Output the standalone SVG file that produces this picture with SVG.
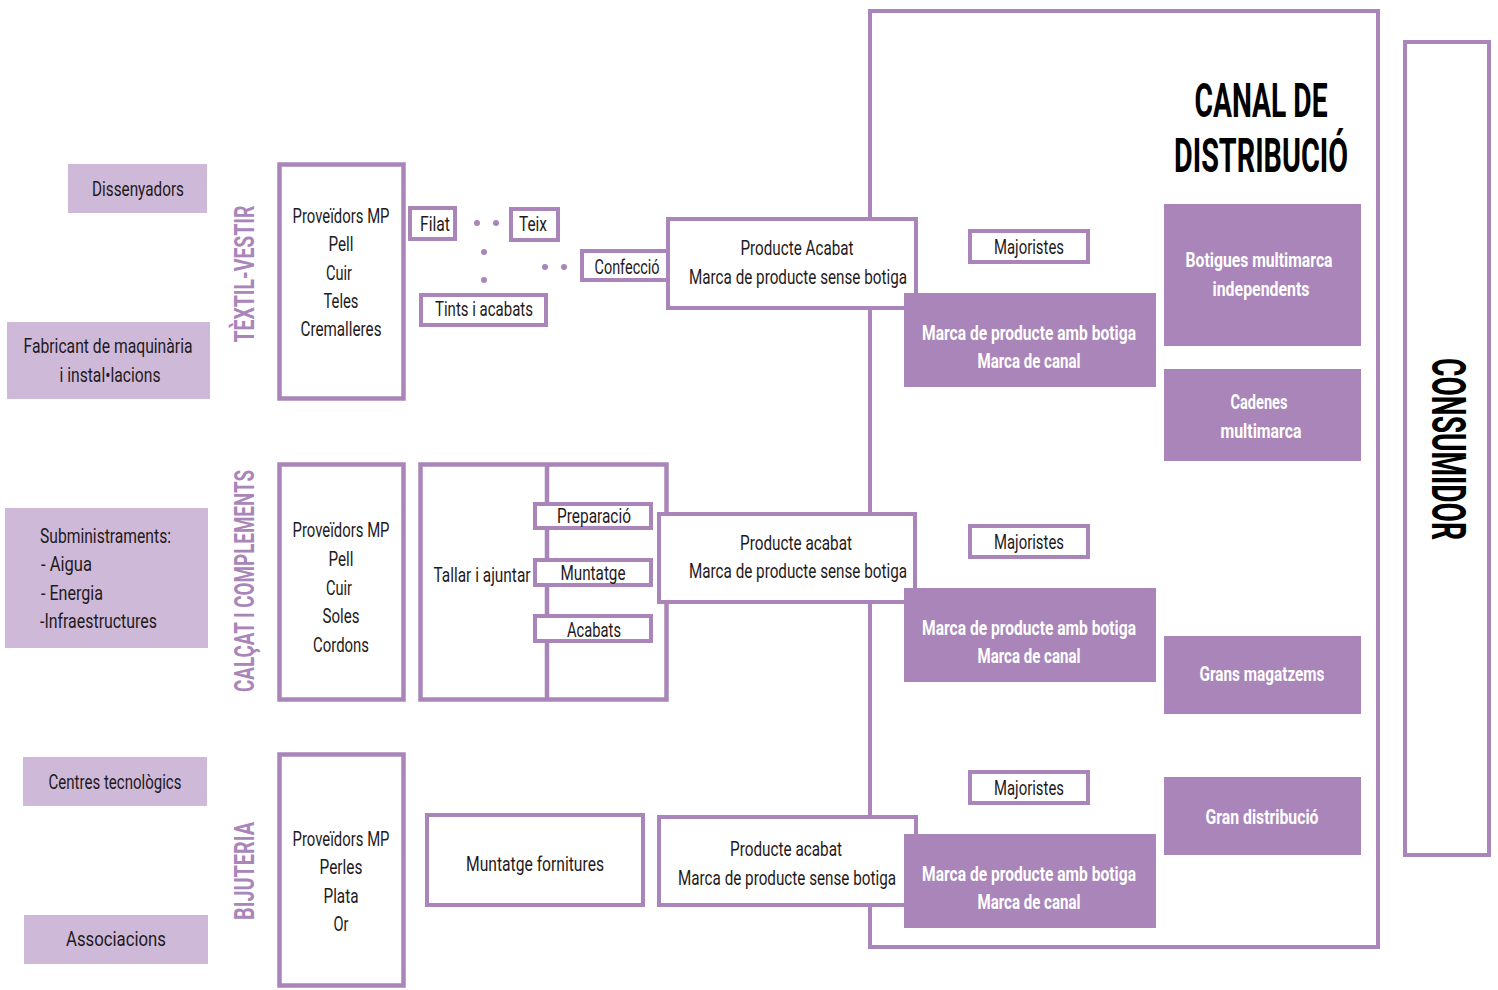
<svg xmlns="http://www.w3.org/2000/svg" width="1498" height="990" viewBox="0 0 1498 990">
<style>
.bx{fill:#fff;stroke:#A985BA;stroke-width:4}
.bx5{fill:#fff;stroke:#A985BA;stroke-width:4.5}
.lt{fill:#CEB9D8}
.dk{fill:#A985BA}
.t{font-family:"Roboto","Liberation Sans",sans-serif;font-size:21px;fill:#1f1a1c;text-anchor:middle;dominant-baseline:central}
.tl{text-anchor:start}
.w{font-family:"Roboto","Liberation Sans",sans-serif;font-size:21px;font-weight:bold;fill:#fff;text-anchor:middle;dominant-baseline:central}
.v{font-family:"Roboto","Liberation Sans",sans-serif;font-size:28px;font-weight:bold;fill:#A985BA;text-anchor:middle;dominant-baseline:central}
.h{font-family:"Roboto","Liberation Sans",sans-serif;font-size:48px;font-weight:bold;fill:#000;text-anchor:middle;dominant-baseline:central}
.dot{fill:#A985BA}
</style>
<rect width="1498" height="990" fill="#fff"/>

<g id="canal">
<rect x="870" y="11" width="508" height="936" fill="none" stroke="#A985BA" stroke-width="4"/>
<text class="h" x="1261" y="100" textLength="133" lengthAdjust="spacingAndGlyphs">CANAL DE</text>
<text class="h" x="1261" y="155" textLength="174" lengthAdjust="spacingAndGlyphs">DISTRIBUCIÓ</text>
</g>

<g id="consumidor">
<rect x="1405" y="42" width="84" height="813" class="bx"/>
<text class="h" transform="translate(1448,449) rotate(90)" textLength="182" lengthAdjust="spacingAndGlyphs">CONSUMIDOR</text>
</g>

<g id="connectors">
<circle class="dot" cx="477" cy="223" r="3"/>
<circle class="dot" cx="496" cy="223" r="3"/>
<circle class="dot" cx="484" cy="252" r="3"/>
<circle class="dot" cx="484" cy="280" r="3"/>
<circle class="dot" cx="545" cy="267" r="3"/>
<circle class="dot" cx="564" cy="267" r="3"/>
</g>

<g id="dissenyadors"><rect class="lt" x="68" y="164" width="139" height="49"/>
<text class="t" x="138" y="189" textLength="92" lengthAdjust="spacingAndGlyphs">Dissenyadors</text></g>
<g id="fabricant"><rect class="lt" x="7" y="322" width="203" height="77"/>
<text class="t" x="108" y="346" textLength="169" lengthAdjust="spacingAndGlyphs">Fabricant de maquinària</text>
<text class="t" x="110" y="375" textLength="101" lengthAdjust="spacingAndGlyphs">i instal•lacions</text></g>
<g id="subministraments"><rect class="lt" x="5" y="508" width="203" height="140"/>
<text class="t tl" x="40" y="536" textLength="131" lengthAdjust="spacingAndGlyphs">Subministraments:</text>
<text class="t tl" x="41" y="564" textLength="51" lengthAdjust="spacingAndGlyphs">- Aigua</text>
<text class="t tl" x="41" y="593" textLength="62" lengthAdjust="spacingAndGlyphs">- Energia</text>
<text class="t tl" x="40" y="621" textLength="117" lengthAdjust="spacingAndGlyphs">-Infraestructures</text></g>
<g id="centres"><rect class="lt" x="23" y="757" width="184" height="49"/>
<text class="t" x="115" y="782" textLength="133" lengthAdjust="spacingAndGlyphs">Centres tecnològics</text></g>
<g id="associacions"><rect class="lt" x="24" y="915" width="184" height="49"/>
<text class="t" x="116" y="939" textLength="100" lengthAdjust="spacingAndGlyphs">Associacions</text></g>

<g id="label-textil"><text class="v" transform="translate(244,274) rotate(-90)" textLength="137" lengthAdjust="spacingAndGlyphs">TÈXTIL-VESTIR</text></g>
<g id="label-calcat"><text class="v" transform="translate(244,581) rotate(-90)" textLength="222" lengthAdjust="spacingAndGlyphs">CALÇAT I COMPLEMENTS</text></g>
<g id="label-bijuteria"><text class="v" transform="translate(244,871) rotate(-90)" textLength="98" lengthAdjust="spacingAndGlyphs">BIJUTERIA</text></g>

<g id="proveidors-1"><rect class="bx5" x="279.5" y="164.5" width="124" height="234"/>
<text class="t" x="341" y="216" textLength="97" lengthAdjust="spacingAndGlyphs">Proveïdors MP</text>
<text class="t" x="341" y="244" textLength="25" lengthAdjust="spacingAndGlyphs">Pell</text>
<text class="t" x="339" y="273" textLength="26" lengthAdjust="spacingAndGlyphs">Cuir</text>
<text class="t" x="341" y="301" textLength="35" lengthAdjust="spacingAndGlyphs">Teles</text>
<text class="t" x="341" y="329" textLength="81" lengthAdjust="spacingAndGlyphs">Cremalleres</text></g>
<g id="proveidors-2"><rect class="bx5" x="279.5" y="464.5" width="124" height="235"/>
<text class="t" x="341" y="530" textLength="97" lengthAdjust="spacingAndGlyphs">Proveïdors MP</text>
<text class="t" x="341" y="559" textLength="25" lengthAdjust="spacingAndGlyphs">Pell</text>
<text class="t" x="339" y="588" textLength="26" lengthAdjust="spacingAndGlyphs">Cuir</text>
<text class="t" x="341" y="616" textLength="37" lengthAdjust="spacingAndGlyphs">Soles</text>
<text class="t" x="341" y="645" textLength="56" lengthAdjust="spacingAndGlyphs">Cordons</text></g>
<g id="proveidors-3"><rect class="bx5" x="279.5" y="754.5" width="124" height="231"/>
<text class="t" x="341" y="839" textLength="97" lengthAdjust="spacingAndGlyphs">Proveïdors MP</text>
<text class="t" x="341" y="867" textLength="43" lengthAdjust="spacingAndGlyphs">Perles</text>
<text class="t" x="341" y="896" textLength="35" lengthAdjust="spacingAndGlyphs">Plata</text>
<text class="t" x="341" y="924" textLength="15" lengthAdjust="spacingAndGlyphs">Or</text></g>

<g id="filat"><rect class="bx" x="410" y="208" width="45" height="31"/>
<text class="t" x="435" y="224" textLength="30" lengthAdjust="spacingAndGlyphs">Filat</text></g>
<g id="teix"><rect class="bx" x="511" y="209" width="47" height="31"/>
<text class="t" x="533" y="224" textLength="28" lengthAdjust="spacingAndGlyphs">Teix</text></g>
<g id="confeccio"><rect class="bx" x="582" y="251" width="95" height="29"/>
<text class="t" x="627" y="267" textLength="65" lengthAdjust="spacingAndGlyphs">Confecció</text></g>
<g id="tints"><rect class="bx" x="421" y="295" width="125" height="30"/>
<text class="t" x="484" y="309" textLength="98" lengthAdjust="spacingAndGlyphs">Tints i acabats</text></g>

<g id="producte-1"><rect class="bx" x="668" y="219" width="248" height="89"/>
<text class="t" x="797" y="248" textLength="113" lengthAdjust="spacingAndGlyphs">Producte Acabat</text>
<text class="t" x="798" y="277" textLength="218" lengthAdjust="spacingAndGlyphs">Marca de producte sense botiga</text></g>

<g id="tallar"><rect class="bx5" x="420.5" y="464.5" width="246" height="235"/>
<line x1="547" y1="464" x2="547" y2="700" stroke="#A985BA" stroke-width="4.5"/>
<text class="t" x="482" y="575" textLength="97" lengthAdjust="spacingAndGlyphs">Tallar i ajuntar</text></g>
<g id="preparacio"><rect class="bx" x="535" y="504" width="116" height="24"/>
<text class="t" x="594" y="516" textLength="74" lengthAdjust="spacingAndGlyphs">Preparació</text></g>
<g id="muntatge"><rect class="bx" x="535" y="560" width="116" height="25"/>
<text class="t" x="593" y="573" textLength="65" lengthAdjust="spacingAndGlyphs">Muntatge</text></g>
<g id="acabats"><rect class="bx" x="535" y="616" width="116" height="25"/>
<text class="t" x="594" y="630" textLength="54" lengthAdjust="spacingAndGlyphs">Acabats</text></g>

<g id="producte-2"><rect class="bx" x="659" y="514" width="256" height="88"/>
<text class="t" x="796" y="543" textLength="112" lengthAdjust="spacingAndGlyphs">Producte acabat</text>
<text class="t" x="798" y="571" textLength="218" lengthAdjust="spacingAndGlyphs">Marca de producte sense botiga</text></g>

<g id="muntatge-fornitures"><rect class="bx" x="427" y="815" width="216" height="90"/>
<text class="t" x="535" y="864" textLength="138" lengthAdjust="spacingAndGlyphs">Muntatge fornitures</text></g>
<g id="producte-3"><rect class="bx" x="659" y="817" width="257" height="88"/>
<text class="t" x="786" y="849" textLength="112" lengthAdjust="spacingAndGlyphs">Producte acabat</text>
<text class="t" x="787" y="878" textLength="218" lengthAdjust="spacingAndGlyphs">Marca de producte sense botiga</text></g>

<g id="majoristes-1"><rect class="bx" x="970" y="231" width="118" height="31"/>
<text class="t" x="1029" y="247" textLength="70" lengthAdjust="spacingAndGlyphs">Majoristes</text></g>
<g id="majoristes-2"><rect class="bx" x="970" y="526" width="118" height="31"/>
<text class="t" x="1029" y="542" textLength="70" lengthAdjust="spacingAndGlyphs">Majoristes</text></g>
<g id="majoristes-3"><rect class="bx" x="970" y="772" width="118" height="31"/>
<text class="t" x="1029" y="788" textLength="70" lengthAdjust="spacingAndGlyphs">Majoristes</text></g>

<g id="marca-1"><rect class="dk" x="904" y="293" width="252" height="94"/>
<text class="w" x="1029" y="333" textLength="214" lengthAdjust="spacingAndGlyphs">Marca de producte amb botiga</text>
<text class="w" x="1029" y="361" textLength="103" lengthAdjust="spacingAndGlyphs">Marca de canal</text></g>
<g id="marca-2"><rect class="dk" x="904" y="588" width="252" height="94"/>
<text class="w" x="1029" y="628" textLength="214" lengthAdjust="spacingAndGlyphs">Marca de producte amb botiga</text>
<text class="w" x="1029" y="656" textLength="103" lengthAdjust="spacingAndGlyphs">Marca de canal</text></g>
<g id="marca-3"><rect class="dk" x="904" y="834" width="252" height="94"/>
<text class="w" x="1029" y="874" textLength="214" lengthAdjust="spacingAndGlyphs">Marca de producte amb botiga</text>
<text class="w" x="1029" y="902" textLength="103" lengthAdjust="spacingAndGlyphs">Marca de canal</text></g>

<g id="botigues"><rect class="dk" x="1164" y="204" width="197" height="142"/>
<text class="w" x="1259" y="260" textLength="147" lengthAdjust="spacingAndGlyphs">Botigues multimarca</text>
<text class="w" x="1261" y="289" textLength="97" lengthAdjust="spacingAndGlyphs">independents</text></g>
<g id="cadenes"><rect class="dk" x="1164" y="369" width="197" height="92"/>
<text class="w" x="1259" y="402" textLength="57" lengthAdjust="spacingAndGlyphs">Cadenes</text>
<text class="w" x="1261" y="431" textLength="81" lengthAdjust="spacingAndGlyphs">multimarca</text></g>
<g id="grans-magatzems"><rect class="dk" x="1164" y="636" width="197" height="78"/>
<text class="w" x="1262" y="674" textLength="125" lengthAdjust="spacingAndGlyphs">Grans magatzems</text></g>
<g id="gran-distribucio"><rect class="dk" x="1164" y="777" width="197" height="78"/>
<text class="w" x="1262" y="817" textLength="113" lengthAdjust="spacingAndGlyphs">Gran distribució</text></g>
</svg>
